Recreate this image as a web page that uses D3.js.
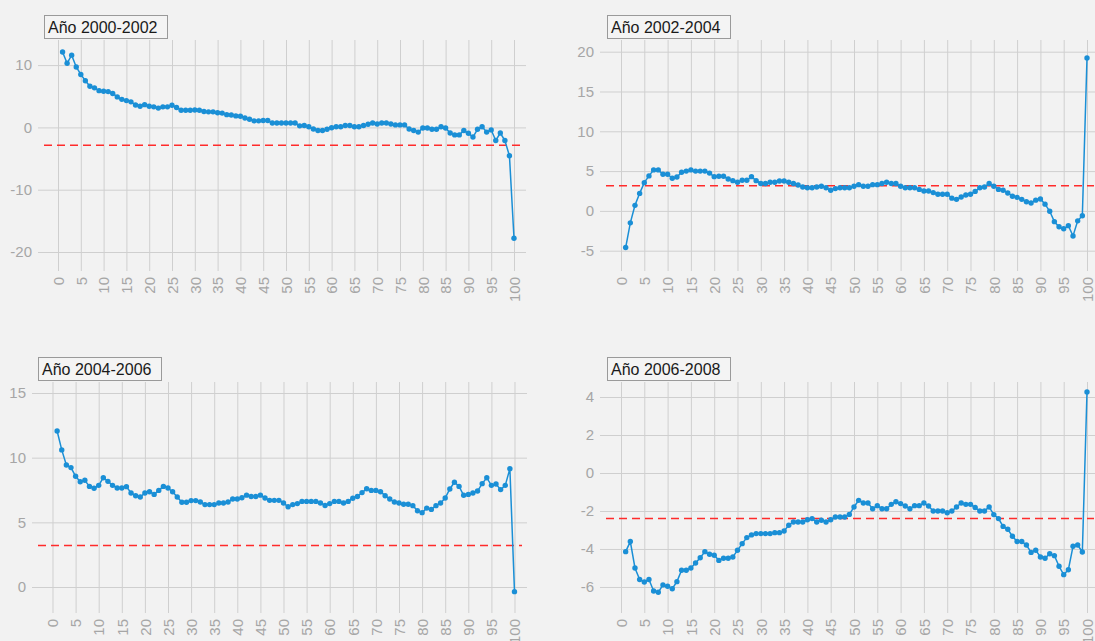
<!DOCTYPE html>
<html>
<head>
<meta charset="utf-8">
<script src="https://cdn.jsdelivr.net/npm/d3@7"></script>
<style>
  body { margin: 0; background: #f2f2f2; }
  svg { display: block; font-family: "Liberation Sans", Arial, sans-serif; }
</style>
</head>
<body>
<svg id="chart" width="1095" height="641"></svg>
<script>
// Panel titles
var titles = ["Año 2000-2002", "Año 2002-2004", "Año 2004-2006", "Año 2006-2008"];

// x ticks (shared)
var xTicks = [0, 5, 10, 15, 20, 25, 30, 35, 40, 45, 50, 55, 60, 65, 70, 75, 80, 85, 90, 95, 100];

// y ticks per panel
var yTicks1 = [-20, -10, 0, 10];
var yTicks2 = [-5, 0, 5, 10, 15, 20];
var yTicks3 = [0, 5, 10, 15];
var yTicks4 = [-6, -4, -2, 0, 2, 4];

// reference (dashed) values
var refValues = [-2.85, 3.15, 3.2, -2.4];

// series values, points 1..100
var values1 = [12.1, 10.3, 11.6, 9.7, 8.5, 7.5, 6.6, 6.35, 5.9, 5.8,
  5.75, 5.45, 4.9, 4.5, 4.3, 4.1, 3.6, 3.4, 3.65, 3.4,
  3.3, 3.1, 3.3, 3.3, 3.55, 3.2, 2.75, 2.75, 2.75, 2.8,
  2.75, 2.55, 2.5, 2.5, 2.35, 2.3, 2.05, 2.0, 1.85, 1.8,
  1.5, 1.3, 1.05, 1.05, 1.1, 1.1, 0.7, 0.7, 0.7, 0.7,
  0.7, 0.7, 0.25, 0.3, 0.1, -0.25, -0.5, -0.5, -0.3, -0.05,
  0.1, 0.1, 0.3, 0.3, 0.1, 0.1, 0.3, 0.5, 0.7, 0.55,
  0.7, 0.7, 0.55, 0.4, 0.4, 0.4, -0.25, -0.5, -0.75, -0.1,
  -0.1, -0.3, -0.3, 0.1, -0.1, -0.9, -1.2, -1.2, -0.5, -0.95,
  -1.55, -0.3, 0.1, -0.75, -0.4, -2.1, -0.9, -2.1, -4.55, -17.8];

var values2 = [-4.6, -1.5, 0.7, 2.2, 3.55, 4.4, 5.15, 5.15, 4.6, 4.6,
  4.1, 4.25, 4.85, 5.0, 5.15, 5.0, 5.0, 5.0, 4.75, 4.3,
  4.35, 4.35, 4.0, 3.8, 3.6, 3.85, 3.85, 4.3, 3.8, 3.45,
  3.45, 3.6, 3.6, 3.75, 3.75, 3.6, 3.45, 3.25, 3.0, 2.9,
  2.9, 3.0, 3.1, 2.9, 2.6, 2.8, 2.9, 2.9, 2.9, 3.1,
  3.3, 3.1, 3.1, 3.3, 3.3, 3.45, 3.6, 3.45, 3.45, 3.1,
  2.9, 2.9, 2.9, 2.7, 2.5, 2.5, 2.3, 2.1, 2.1, 2.1,
  1.6, 1.45, 1.75, 2.0, 2.1, 2.45, 2.9, 3.0, 3.45, 3.1,
  2.7, 2.6, 2.25, 1.85, 1.7, 1.45, 1.15, 1.0, 1.35, 1.5,
  0.85, -0.05, -1.35, -2.0, -2.25, -1.85, -3.15, -1.25, -0.6, 19.2];

var values3 = [12.06, 10.6, 9.43, 9.23, 8.56, 8.14, 8.25, 7.78, 7.63, 7.86,
  8.45, 8.17, 7.86, 7.65, 7.65, 7.76, 7.27, 7.06, 6.96, 7.27,
  7.37, 7.16, 7.47, 7.78, 7.65, 7.37, 6.96, 6.55, 6.55, 6.68,
  6.68, 6.57, 6.37, 6.37, 6.37, 6.5, 6.5, 6.57, 6.8, 6.8,
  6.9, 7.1, 7.0, 7.0, 7.1, 6.88, 6.7, 6.7, 6.7, 6.5,
  6.2, 6.37, 6.45, 6.62, 6.62, 6.62, 6.62, 6.5, 6.3, 6.45,
  6.62, 6.62, 6.5, 6.62, 6.86, 7.0, 7.3, 7.6, 7.47, 7.47,
  7.37, 7.06, 6.8, 6.57, 6.5, 6.4, 6.4, 6.29, 5.9, 5.75,
  6.1, 6.0, 6.29, 6.5, 6.88, 7.58, 8.1, 7.78, 7.09, 7.16,
  7.27, 7.42, 7.99, 8.45, 7.86, 7.96, 7.53, 7.86, 9.15, -0.36];

var values4 = [-4.14, -3.61, -5.0, -5.61, -5.74, -5.61, -6.21, -6.28, -5.89, -5.96,
  -6.09, -5.72, -5.12, -5.12, -5.0, -4.74, -4.46, -4.14, -4.28, -4.33,
  -4.6, -4.49, -4.49, -4.42, -4.07, -3.72, -3.4, -3.26, -3.19, -3.19,
  -3.19, -3.19, -3.14, -3.14, -3.05, -2.75, -2.58, -2.58, -2.58, -2.46,
  -2.4, -2.58, -2.49, -2.58, -2.46, -2.32, -2.32, -2.32, -2.18, -1.79,
  -1.44, -1.58, -1.58, -1.88, -1.72, -1.88, -1.88, -1.65, -1.51, -1.61,
  -1.74, -1.88, -1.72, -1.72, -1.58, -1.74, -2.0, -2.0, -2.0, -2.09,
  -2.0, -1.79, -1.58, -1.65, -1.65, -1.82, -2.0, -2.0, -1.79, -2.19,
  -2.4, -2.81, -2.96, -3.33, -3.61, -3.61, -3.79, -4.18, -4.07, -4.42,
  -4.49, -4.25, -4.35, -4.91, -5.35, -5.09, -3.86, -3.79, -4.16, 4.26];

// Layout of each panel (pixels) and its y range
var panels = [
  { title: titles[0], values: values1, yTicks: yTicks1, ref: refValues[0],
    left: 38, right: 526, top: 40, bottom: 271, x0: 58, x1: 514, yMin: -23.05, yMax: 14.03, titleX: 44, titleY: 15 },
  { title: titles[1], values: values2, yTicks: yTicks2, ref: refValues[1],
    left: 600, right: 1099, top: 40, bottom: 271, x0: 621, x1: 1087, yMin: -7.55, yMax: 21.47, titleX: 607, titleY: 15 },
  { title: titles[2], values: values3, yTicks: yTicks3, ref: refValues[2],
    left: 32, right: 527, top: 382, bottom: 613, x0: 52.5, x1: 514.5, yMin: -2.01, yMax: 15.85, titleX: 38, titleY: 357 },
  { title: titles[3], values: values4, yTicks: yTicks4, ref: refValues[3],
    left: 600, right: 1099, top: 382, bottom: 613, x0: 621, x1: 1087, yMin: -7.37, yMax: 4.79, titleX: 607, titleY: 357 }
];

var svg = d3.select("#chart");
var gridColor = "#cfcfcf";
var labelColor = "#a6a6a6";
var lineColor = "#1a8fd6";
var fontFamily = "'Liberation Sans', Arial, sans-serif";

panels.forEach(function (p) {
  var g = svg.append("g");

  var x = d3.scaleLinear().domain([0, 100]).range([p.x0, p.x1]);
  var y = d3.scaleLinear().domain([p.yMin, p.yMax]).range([p.bottom, p.top]);

  // horizontal grid + y labels (plain hyphen for negatives)
  var yAxis = g.append("g")
    .attr("transform", "translate(" + p.left + ",0)")
    .call(d3.axisLeft(y)
      .tickValues(p.yTicks)
      .tickFormat(function (d) { return String(d); })
      .tickSize(-(p.right - p.left))
      .tickPadding(6));
  yAxis.select(".domain").remove();
  yAxis.selectAll("line").attr("stroke", gridColor);
  yAxis.selectAll("text")
    .attr("fill", labelColor)
    .style("font-size", "15px")
    .style("font-family", fontFamily);

  // vertical grid + rotated x labels
  var xAxis = g.append("g")
    .attr("transform", "translate(0," + p.bottom + ")")
    .call(d3.axisBottom(x)
      .tickValues(xTicks)
      .tickFormat(function (d) { return String(d); })
      .tickSize(-(p.bottom - p.top)));
  xAxis.select(".domain").remove();
  xAxis.selectAll("line").attr("stroke", gridColor);
  xAxis.selectAll("text")
    .attr("transform", "rotate(-90)")
    .attr("text-anchor", "end")
    .attr("x", -6)
    .attr("y", 0)
    .attr("dy", "0.35em")
    .attr("fill", labelColor)
    .style("font-size", "15px")
    .style("font-family", fontFamily);

  // dashed reference line
  g.append("line")
    .attr("x1", p.left + 6)
    .attr("x2", Math.min(p.right - 5, 1095))
    .attr("y1", y(p.ref))
    .attr("y2", y(p.ref))
    .attr("stroke", "#ff2b2b")
    .attr("stroke-width", 1.5)
    .attr("stroke-dasharray", "8,5");

  // series line
  var line = d3.line()
    .x(function (d, i) { return x(i + 1); })
    .y(function (d) { return y(d); });

  g.append("path")
    .datum(p.values)
    .attr("fill", "none")
    .attr("stroke", lineColor)
    .attr("stroke-width", 1.5)
    .attr("d", line);

  g.selectAll("circle")
    .data(p.values)
    .enter()
    .append("circle")
    .attr("cx", function (d, i) { return x(i + 1); })
    .attr("cy", function (d) { return y(d); })
    .attr("r", 2.7)
    .attr("fill", lineColor);

  // title box
  var tb = g.append("g").attr("transform", "translate(" + p.titleX + "," + p.titleY + ")");
  tb.append("rect")
    .attr("x", 0.5).attr("y", 0.5)
    .attr("width", 123).attr("height", 23)
    .attr("fill", "#f4f4f4")
    .attr("stroke", "#9a9a9a");
  tb.append("text")
    .attr("x", 4)
    .attr("y", 17.5)
    .attr("fill", "#1a1a1a")
    .style("font-size", "16px")
    .style("font-family", fontFamily)
    .text(p.title);
});
</script>
</body>
</html>
